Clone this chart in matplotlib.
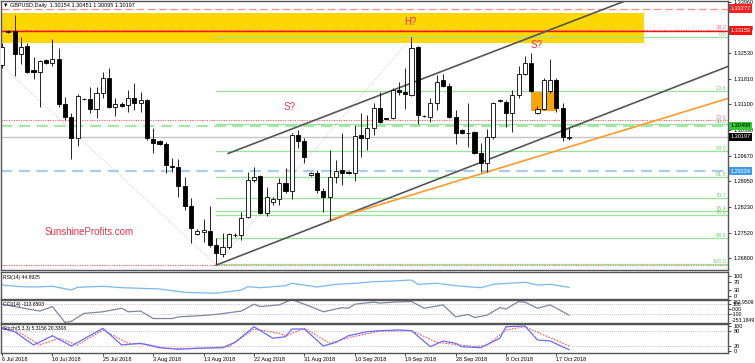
import matplotlib
matplotlib.use("Agg")
import matplotlib.pyplot as plt
import matplotlib.transforms as mtransforms
from matplotlib.patches import Rectangle
import numpy as np

plt.rcParams['font.family'] = ['Liberation Sans', 'DejaVu Sans']

# GBPUSD daily candles, bar 0 = 6 Jul 2018 (broker with Sunday bars)
opens = [1.32199, 1.33129, 1.33157, 1.32498, 1.32730, 1.32051, 1.32012, 1.32339, 1.32264, 1.32359,
         1.31110, 1.30739, 1.30152, 1.31241, 1.31258, 1.30962, 1.31409, 1.31845, 1.31035, 1.31110,
         1.31082, 1.31269, 1.31130, 1.31222, 1.30124, 1.30076, 1.29993, 1.29379, 1.29342, 1.28820,
         1.28269, 1.27479, 1.27543, 1.27571, 1.27171, 1.26920, 1.27124, 1.27451, 1.27451, 1.27962,
         1.28987, 1.29099, 1.28074, 1.28381, 1.28448, 1.28895, 1.28688, 1.30244, 1.30085, 1.29118,
         1.29174, 1.28688, 1.28504, 1.29079, 1.29267, 1.29219, 1.29174, 1.30244, 1.30152, 1.30432,
         1.30990, 1.30711, 1.30711, 1.31501, 1.31454, 1.31361, 1.32711, 1.30775, 1.30755, 1.31146,
         1.31780, 1.31613, 1.30739, 1.30384, 1.30309, 1.30337, 1.29733, 1.29471, 1.30180, 1.31202,
         1.31174, 1.30867, 1.31361, 1.31948, 1.32264, 1.30850, 1.30962, 1.31482, 1.31780, 1.30990,
         1.30154]
highs = [1.32814, 1.33177, 1.33596, 1.32990, 1.32822, 1.32415, 1.32339, 1.32359, 1.32917, 1.32666,
         1.31297, 1.30850, 1.31389, 1.31269, 1.31576, 1.31576, 1.32012, 1.32107, 1.31286, 1.31174,
         1.31501, 1.31705, 1.31454, 1.31241, 1.30432, 1.30104, 1.30049, 1.29593, 1.29566, 1.29079,
         1.28476, 1.27618, 1.27890, 1.28261, 1.27359, 1.27515, 1.27515, 1.27507, 1.28102, 1.29219,
         1.29342, 1.29127, 1.28783, 1.28504, 1.29035, 1.29314, 1.30292, 1.30384, 1.30160, 1.29211,
         1.29267, 1.28755, 1.29825, 1.29546, 1.30292, 1.29247, 1.30523, 1.30850, 1.30803, 1.31130,
         1.31454, 1.30719, 1.31548, 1.31733, 1.32107, 1.32970, 1.32730, 1.30803, 1.31269, 1.31920,
         1.31948, 1.31688, 1.30942, 1.30420, 1.31146, 1.30364, 1.30012, 1.30403, 1.31174, 1.31241,
         1.31222, 1.31501, 1.32171, 1.32451, 1.32543, 1.31054, 1.31828, 1.32359, 1.31828, 1.31130,
         1.30451]
lows = [1.32107, 1.33093, 1.31892, 1.32219, 1.31984, 1.31800, 1.31018, 1.32238, 1.32171, 1.31035,
        1.30663, 1.29566, 1.29937, 1.31213, 1.30850, 1.30711, 1.31269, 1.30990, 1.30775, 1.31018,
        1.30895, 1.30942, 1.30895, 1.30104, 1.29733, 1.29965, 1.29191, 1.29219, 1.28521, 1.28149,
        1.27236, 1.27451, 1.27264, 1.27124, 1.26641, 1.26845, 1.27051, 1.27395, 1.27311, 1.27917,
        1.28940, 1.28037, 1.27981, 1.28289, 1.28289, 1.28616, 1.28448, 1.29873, 1.29454, 1.29099,
        1.28616, 1.28102, 1.27870, 1.28895, 1.28848, 1.29146, 1.28968, 1.29638, 1.29825, 1.30244,
        1.30571, 1.30683, 1.30683, 1.31361, 1.30962, 1.31333, 1.30551, 1.30747, 1.30616, 1.30942,
        1.31576, 1.30711, 1.29993, 1.30280, 1.29917, 1.29713, 1.29219, 1.29219, 1.30124, 1.31174,
        1.30476, 1.30337, 1.31269, 1.31920, 1.31454, 1.30831, 1.30942, 1.31409, 1.30895, 1.30085,
        1.30095]
closes = [1.32702, 1.33140, 1.32498, 1.32711, 1.32012, 1.32012, 1.32311, 1.32264, 1.32359, 1.31110,
          1.30739, 1.30152, 1.31333, 1.31250, 1.30962, 1.31409, 1.31828, 1.31018, 1.31102, 1.31063,
          1.31269, 1.31130, 1.31222, 1.30152, 1.30029, 1.29993, 1.29406, 1.29342, 1.28820, 1.28269,
          1.27638, 1.27563, 1.27591, 1.27171, 1.26957, 1.27124, 1.27479, 1.27460, 1.27917, 1.28987,
          1.29079, 1.28074, 1.28504, 1.28448, 1.28912, 1.28688, 1.30244, 1.30085, 1.29638, 1.29174,
          1.28708, 1.28504, 1.29079, 1.29247, 1.29191, 1.29174, 1.30216, 1.30152, 1.30432, 1.30990,
          1.30616, 1.30700, 1.31501, 1.31437, 1.31389, 1.32666, 1.30803, 1.30780, 1.31146, 1.31733,
          1.31613, 1.30739, 1.30309, 1.30309, 1.30300, 1.29750, 1.29471, 1.30180, 1.31130, 1.31210,
          1.30867, 1.31361, 1.31948, 1.32264, 1.31482, 1.30962, 1.31780, 1.31780, 1.30990, 1.30180,
          1.30197]

date_bars = [0, 8, 16, 24, 32, 40, 48, 56, 64, 72, 80, 88]
date_labels = ["6 Jul 2018", "16 Jul 2018", "25 Jul 2018", "3 Aug 2018", "13 Aug 2018", "22 Aug 2018",
               "31 Aug 2018", "10 Sep 2018", "19 Sep 2018", "28 Sep 2018", "8 Oct 2018", "17 Oct 2018"]

price_ticks = [1.33960, 1.33240, 1.32530, 1.31810, 1.31100, 1.30390, 1.29670, 1.28950, 1.28230, 1.27520, 1.26800]

# indicators (bar index, value)
rsi_bars = [0, 3, 5, 8, 11, 12, 16, 19, 22, 25, 29, 34, 38, 39, 41, 45, 46, 50, 53, 56, 59,
            62, 65, 66, 69, 72, 76, 78, 83, 85, 87, 90]
rsi_vals = [56, 47.8, 46.3, 49.8, 31.7, 44.9, 49.8, 42.9, 40, 36.6, 20.5, 15.6, 31.7, 47.8, 42.9, 52.7, 64.4,
            46.3, 59.5, 64.4, 72.2, 75.6, 80.5, 59.5, 64.4, 52.7, 42.9, 59.5, 69.3, 56, 59.5, 44.89]

cci_bars = [0, 3, 6, 8, 10, 11, 13, 16, 19, 20, 22, 24, 27, 28, 31, 34, 38, 40, 41, 44, 46, 49, 51,
            54, 55, 56, 59, 60, 62, 65, 67, 70, 72, 74, 75, 77, 79, 80, 82, 83, 85, 87, 90]
cci_vals = [94, 28, -36, 48, -253.18, -230, -81, -50, 17, -50, -36, -178, -178, -147, -127, -100, -36, 94, 48,
            81, 182.95, 48, -50, 28, 17, 94, 133, 114, 133, 145, 17, 81, -147, -100, -158, -114, 28, 3,
            145, 133, 17, 81, -113.65]

sto_bars = [0, 2, 5, 8, 11, 16, 19, 22, 25, 28, 31, 35, 37, 40, 43, 45, 46, 48, 51, 53, 55, 58, 60,
            63, 65, 68, 70, 72, 73, 76, 79, 80, 83, 85, 87, 90]
sto_main = [90.8, 77.2, 24, 61.2, 20, 90.8, 24, 30.8, 13.2, 6.8, 10.8, 13.2, 34.8, 97.2, 50.8, 57.2, 88, 88,
            20, 34.8, 61.2, 77.2, 81.2, 84, 81.2, 17.2, 40, 30.8, 17.2, 13.2, 50.8, 97.2, 100, 44, 40, 5.32]
sig_bars = [0, 3, 6, 9, 12, 16, 20, 23, 26, 31, 36, 40, 44, 45, 48, 52, 55, 60, 65, 69, 75, 77, 80,
            83, 86, 90]
sto_sig = [93.2, 70.8, 24, 50.8, 24, 84, 30.8, 26.8, 10.8, 10.8, 17.2, 88, 70.8, 60, 90.8, 30.8, 53.2, 80,
           81.2, 34.8, 17.2, 24, 84, 97.2, 64, 20.33]

# analyst drawings
zone_top, zone_bottom, zone_end = 1.33650, 1.32806, 101.9
box_bars, box_low, box_high = (84, 88.1), 1.30923, 1.31482
fib_green_high, fib_green_low = 1.32970, 1.26641
fib_green_bars = (34, 65)
fib_green_levels = [0.0, 23.6, 38.2, 50.0, 61.8, 70.7, 76.4, 78.6, 88.6, 100.0]
fib_red_high, fib_red_low = 1.43770, 1.26620
fib_red_bars = (-71, 34)
fib_red_levels = [0.0, 23.6, 38.2]
chan_low_x, chan_low_y = [34, 115.24], [1.26610, 1.32159]
chan_up_x, chan_up_y = [35.9, 115.24], [1.29729, 1.35092]
orange_x, orange_y = [52, 115.24], [1.27870, 1.31266]

W, H = 755, 363
fig = plt.figure(figsize=(W / 100, H / 100), dpi=100)


def panel(y0, y1):
    ax = fig.add_axes([0.5 / W, 1 - y1 / H, 727.5 / W, (y1 - y0) / H])
    ax.set_xlim(-0.24, 115.24)
    for s in ax.spines.values():
        s.set_color('#555555')
        s.set_linewidth(1.0)
    ax.tick_params(axis='x', bottom=False, labelbottom=False)
    ax.yaxis.tick_right()
    ax.tick_params(axis='y', labelsize=4, length=2, pad=2, width=0.5)
    return ax


ax = panel(1, 270)
ax.set_ylim(1.26473, 1.33987)
ax.set_yticks(price_ticks)
ax.set_yticklabels([f"{v:.5f}" for v in price_ticks])
xmin, xmax = ax.get_xlim()

ax.add_patch(Rectangle((xmin, zone_bottom), zone_end - xmin, zone_top - zone_bottom,
                       facecolor='#ffd700', edgecolor='none', zorder=0))
ax.add_patch(Rectangle((box_bars[0], box_low), box_bars[1] - box_bars[0], box_high - box_low,
                       facecolor='#ffa500', edgecolor='none', zorder=1))

# fibonacci retracements
for lv in fib_red_levels:
    p = fib_red_low + lv / 100 * (fib_red_high - fib_red_low)
    ax.plot([xmin, xmax], [p, p], color='#ff5a5a', lw=0.8, ls=(0, (1, 1.2)), zorder=1)
    if lv > 0:
        ax.text(xmax - 0.3, p, f"{lv:.1f}", color='#ff7f9a', fontsize=4, ha='right', va='bottom', zorder=6)
ax.plot(fib_red_bars, [fib_red_high, fib_red_low], color='#c8c8c8', lw=0.7, ls=(0, (1, 1.5)), zorder=1)
for lv in fib_green_levels:
    p = fib_green_high - lv / 100 * (fib_green_high - fib_green_low)
    ax.plot([fib_green_bars[0], xmax], [p, p], color='#98e498', lw=0.9, zorder=1)
    ax.text(xmax - 0.3, p, f"{lv:.1f}", color='#78cc78', fontsize=4, ha='right', va='bottom', zorder=6)
ax.plot(fib_green_bars, [fib_green_low, fib_green_high], color='#c8c8c8', lw=0.7, ls=(0, (1, 1.5)), zorder=1)

# horizontal levels
ax.axhline(1.33777, color='#ff8c8c', lw=0.9, ls=(0, (6, 3)), zorder=1)
ax.axhline(1.33159, color='#ff1010', lw=1.0, zorder=2)
ax.axhline(1.30498, color='#a6e6a6', lw=1.6, ls=(0, (5, 3)), zorder=1)
ax.axhline(1.30197, color='#c4c4c4', lw=1.0, zorder=1)
ax.axhline(1.29234, color='#a8ccf2', lw=1.6, ls=(0, (5, 3)), zorder=1)

# trend lines
ax.plot(chan_low_x, chan_low_y, color='#555555', lw=1.2, zorder=2)
ax.plot(chan_up_x, chan_up_y, color='#555555', lw=1.2, zorder=2)
ax.plot(orange_x, orange_y, color='#ff9a2a', lw=1.2, zorder=2)

# candles
o, h, l, c = map(np.array, (opens, highs, lows, closes))
idx = np.arange(len(o))
up = c >= o
ax.vlines(idx, l, h, color='black', lw=0.6, zorder=3)
body_lo = np.minimum(o, c)
body_h = np.maximum(np.abs(c - o), 0.00004)
ax.bar(idx, body_h, bottom=body_lo, width=0.66, color=np.where(up, 'white', 'black'),
       edgecolor='black', linewidth=0.6, zorder=4)

# text
red_txt = '#e8344e'
ax.text(45.7, 1.31026, "S?", color=red_txt, fontsize=7, ha='center', va='center', zorder=6)
ax.text(64.9, 1.33409, "H?", color=red_txt, fontsize=7, ha='center', va='center', zorder=6)
ax.text(84.9, 1.32758, "S?", color=red_txt, fontsize=7, ha='center', va='center', zorder=6)
ax.text(13.8, 1.27535, "SunshineProfits.com", color=red_txt, fontsize=7, ha='center', va='center', zorder=6)
ax.text(0.004, 0.982, "\u25bc GBPUSD,Daily  1.30154 1.30451 1.30095 1.30197", transform=ax.transAxes,
        fontsize=4, ha='left', va='center', zorder=7)

# price boxes at the right
trans = mtransforms.blended_transform_factory(ax.transAxes, ax.transData)
boxes = [(1.33777, '#ff2020', 'white'), (1.33159, '#ff1010', 'white'), (1.30498, '#2ecc2e', 'black'),
         (1.30197, 'black', 'white'), (1.29234, '#3d9be9', 'white')]
for val, bg, fg in boxes:
    ax.text(1.003, val, f"{val:.5f}", transform=trans, fontsize=4, color=fg, ha='left', va='center',
            bbox=dict(boxstyle='square,pad=0.3', fc=bg, ec='none'), clip_on=False, zorder=8)

# RSI
ax_rsi = panel(271.5, 298.5)
ax_rsi.set_ylim(-9.8, 122)
ax_rsi.plot(rsi_bars, rsi_vals, color='#7ab8f0', lw=0.9)
ax_rsi.set_yticks([100, 70, 30, 0])
ax_rsi.set_yticklabels(["100", "70", "30", "0"])
ax_rsi.text(0.003, 0.86, "RSI(14) 44.8925", transform=ax_rsi.transAxes, fontsize=3.6, va='top')

# CCI
ax_cci = panel(299.5, 322.5)
ax_cci.set_ylim(-253.1849, 182.9509)
for lv in (100, -100):
    ax_cci.axhline(lv, color='#b0b0b0', lw=0.6, ls=(0, (1, 1.5)))
ax_cci.plot(cci_bars, cci_vals, color='#7d86a8', lw=0.9)
ax_cci.set_yticks([182.9509, 100, 0, -100, -253.1849])
ax_cci.set_yticklabels(["182.9509", "100", "0.00", "-100", "-253.1849"])
ax_cci.tick_params(axis='y', labelsize=3.7, pad=1)
tl = ax_cci.get_yticklabels()
tl[0].set_va('top')
tl[-1].set_va('bottom')
ax_cci.text(0.003, 0.9, "CCI(14) -113.6503", transform=ax_cci.transAxes, fontsize=3.6, va='top')

# Stochastic
ax_sto = panel(323.5, 352.5)
ax_sto.set_ylim(-6, 110)
for lv in (80, 20):
    ax_sto.axhline(lv, color='#b0b0b0', lw=0.6, ls=(0, (1, 1.5)))
ax_sto.plot(sig_bars, sto_sig, color='#ff5050', lw=0.8, ls=(0, (1.5, 1.2)))
ax_sto.plot(sto_bars, sto_main, color='#6a6aff', lw=0.9)
ax_sto.set_yticks([100, 80, 20, 0])
ax_sto.set_yticklabels(["100", "80", "20", "0"])
ax_sto.text(0.003, 0.9, "Stoch(5,3,3) 5.3156 20.3308", transform=ax_sto.transAxes, fontsize=3.6, va='top')
ax_sto.tick_params(axis='x', bottom=True, labelbottom=True, labelsize=4, length=2, pad=1.5, width=0.5)
ax_sto.set_xticks(date_bars)
ax_sto.set_xticklabels(date_labels)
for t in ax_sto.get_xticklabels():
    t.set_ha('left')

fig.savefig("out.png", dpi=100)
